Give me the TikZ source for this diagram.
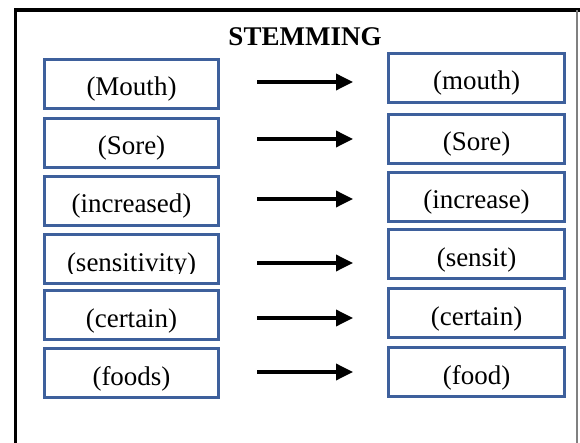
\documentclass[tikz,border=0pt]{standalone}
\usepackage{fontspec}
\setmainfont{Liberation Serif}
\usetikzlibrary{arrows.meta}
\definecolor{boxblue}{RGB}{62,96,156}
\tikzset{
  wbox/.style={draw=boxblue, line width=3pt, rectangle, inner sep=0pt,
    minimum height=49pt, text height=36.5pt, text depth=12.5pt,
    font=\fontsize{27}{30}\selectfont},
  lbox/.style={wbox, minimum width=174pt},
  rbox/.style={wbox, minimum width=176pt},
  txt/.style={inner sep=0pt, anchor=base, font=\fontsize{27}{30}\selectfont},
  conv/.style={line width=3.5pt, -{Triangle[length=17pt,width=16pt]}},
  frame/.style={line width=3.5pt, black},
}
\begin{document}
\begin{tikzpicture}[x=1pt,y=-1pt]
\useasboundingbox (0,0) rectangle (580,443);
% outer frame
\draw[frame] (15.5,443) -- (15.5,10) -- (580,10);
\draw[line width=1.5pt, gray] (577,10) -- (577,443);
% title
\node[txt, font=\fontsize{27}{30}\selectfont\bfseries] (title) at (305,46) {STEMMING};
% left boxes
\node[lbox] (l1) at (131.5,84) {(Mouth)};
\node[lbox] (l2) at (131.5,143) {(Sore)};
\node[lbox] (l3) at (131.5,201) {(increased)};
\node[lbox] (l4) at (131.5,259) {};
\begin{scope}
  \clip (40,240) rectangle (225,274);
  \node[txt] (l4t) at (131.5,272) {(sensitivity)};
\end{scope}
\node[lbox] (l5) at (131.5,315) {(certain)};
\node[lbox] (l6) at (131.5,373) {(foods)};
% right boxes
\node[rbox] (r1) at (476.5,78) {(mouth)};
\node[rbox] (r2) at (476.5,139) {(Sore)};
\node[rbox] (r3) at (476.5,197) {(increase)};
\node[rbox] (r4) at (476.5,254) {(sensit)};
\node[rbox] (r5) at (476.5,313) {(certain)};
\node[rbox] (r6) at (476.5,372) {(food)};
% arrows
\coordinate (a1s) at (257,82);  \coordinate (a1e) at (353,82);
\coordinate (a2s) at (257,139); \coordinate (a2e) at (353,139);
\coordinate (a3s) at (257,199); \coordinate (a3e) at (353,199);
\coordinate (a4s) at (257,263); \coordinate (a4e) at (353,263);
\coordinate (a5s) at (257,318); \coordinate (a5e) at (353,318);
\coordinate (a6s) at (257,372); \coordinate (a6e) at (353,372);
\draw[conv] (a1s) -- (a1e);
\draw[conv] (a2s) -- (a2e);
\draw[conv] (a3s) -- (a3e);
\draw[conv] (a4s) -- (a4e);
\draw[conv] (a5s) -- (a5e);
\draw[conv] (a6s) -- (a6e);
\end{tikzpicture}
\end{document}
